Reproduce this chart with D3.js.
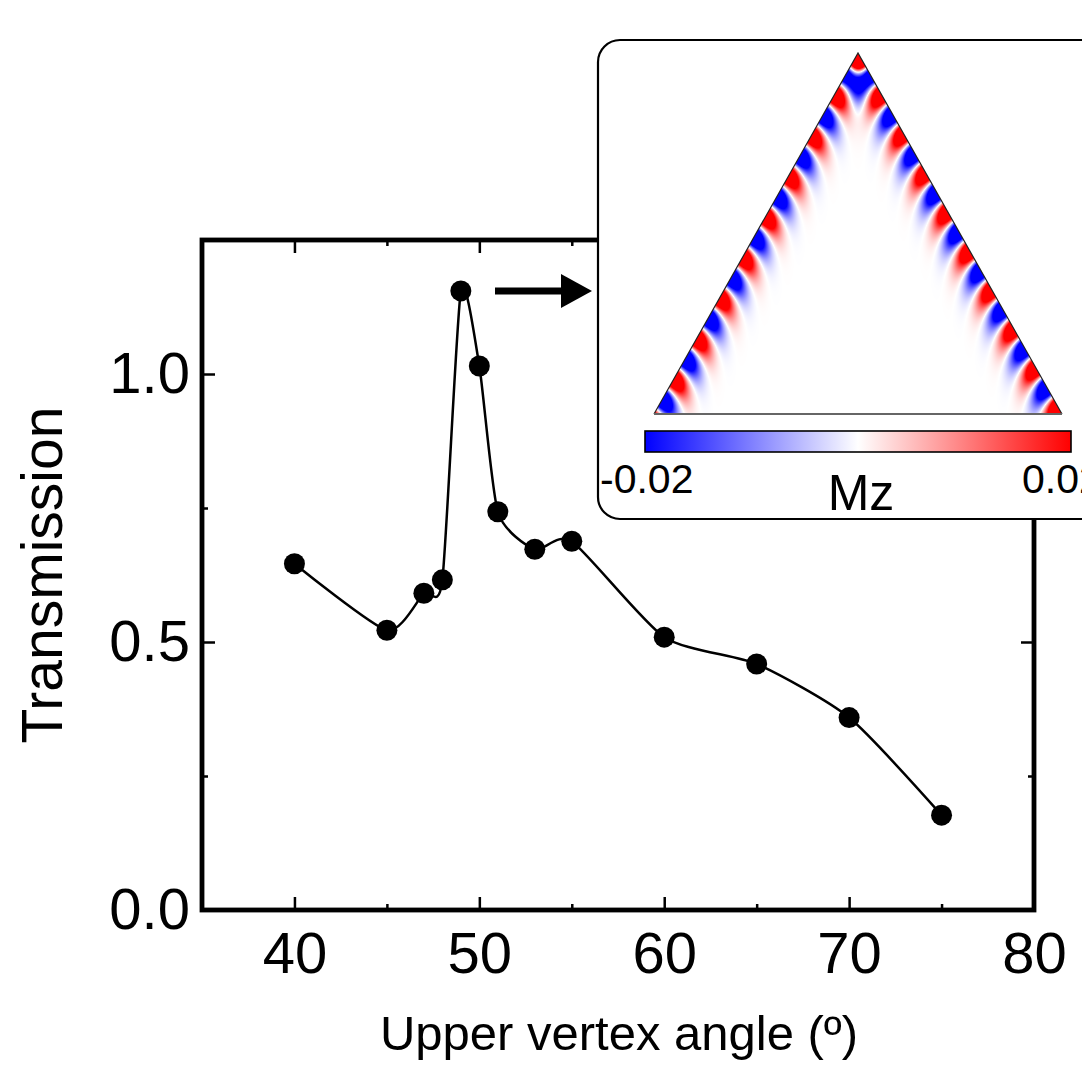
<!DOCTYPE html>
<html>
<head>
<meta charset="utf-8">
<script src="https://cdn.jsdelivr.net/npm/d3@7"></script>
<style>
  html, body { margin: 0; padding: 0; background: #fff; }
  svg { display: block; }
  text { font-family: "Liberation Sans", Arial, sans-serif; fill: #000; }
</style>
</head>
<body>
<script>
// Transmission versus upper vertex angle of the triangular element
const angles = [40, 45, 47, 48, 49, 50, 51, 53, 55, 60, 65, 70, 75];
const transmission = [0.646, 0.522, 0.591, 0.616, 1.155, 1.015, 0.743, 0.673, 0.688, 0.509, 0.459, 0.359, 0.177];

const xMajorTicks = [40, 50, 60, 70, 80];
const xMinorTicks = [45, 55, 65, 75];
const yMajorTicks = [0, 0.5, 1.0];
const yMinorTicks = [0.25, 0.75];

// Mz colour range of the inset map
const mzLimits = [-0.02, 0.02];
const mzTickLabels = ["-0.02", "0.02"];
const mzColors = ["#0000ff", "#ffffff", "#ff0000"];

const W = 1082, H = 1073;
const svg = d3.select("body").append("svg").attr("width", W).attr("height", H);

const x = d3.scaleLinear().domain([35, 80]).range([202, 1034]);
const y = d3.scaleLinear().domain([0, 1.25]).range([910, 240]);

const FONT_TICK = 58;

// ---- axes (ticks point inward on all four sides) ----
function styleAxis(g, width) {
  g.select(".domain").remove();
  g.selectAll(".tick line").attr("stroke", "#000").attr("stroke-width", width);
  g.selectAll(".tick text").style("font-size", FONT_TICK + "px").attr("fill", "#000");
}

const fmtY = d3.format(".1f");

svg.append("g").attr("transform", `translate(0,${y(0)})`)
  .call(d3.axisBottom(x).tickValues(xMajorTicks).tickSize(-13).tickSizeOuter(0).tickPadding(22).tickFormat(d3.format("d")))
  .call(g => styleAxis(g, 2.5));
svg.append("g").attr("transform", `translate(0,${y(0)})`)
  .call(d3.axisBottom(x).tickValues(xMinorTicks).tickSize(-6).tickSizeOuter(0).tickFormat(""))
  .call(g => styleAxis(g, 2.5));
svg.append("g").attr("transform", `translate(0,${y(1.25)})`)
  .call(d3.axisTop(x).tickValues(xMajorTicks).tickSize(-13).tickSizeOuter(0).tickFormat(""))
  .call(g => styleAxis(g, 2.5));
svg.append("g").attr("transform", `translate(0,${y(1.25)})`)
  .call(d3.axisTop(x).tickValues(xMinorTicks).tickSize(-6).tickSizeOuter(0).tickFormat(""))
  .call(g => styleAxis(g, 2.5));

svg.append("g").attr("transform", `translate(${x(35)},0)`)
  .call(d3.axisLeft(y).tickValues(yMajorTicks).tickSize(-13).tickSizeOuter(0).tickPadding(12).tickFormat(fmtY))
  .call(g => styleAxis(g, 2.5));
svg.append("g").attr("transform", `translate(${x(35)},0)`)
  .call(d3.axisLeft(y).tickValues(yMinorTicks).tickSize(-6).tickSizeOuter(0).tickFormat(""))
  .call(g => styleAxis(g, 2.5));
svg.append("g").attr("transform", `translate(${x(80)},0)`)
  .call(d3.axisRight(y).tickValues(yMajorTicks).tickSize(-13).tickSizeOuter(0).tickFormat(""))
  .call(g => styleAxis(g, 2.5));
svg.append("g").attr("transform", `translate(${x(80)},0)`)
  .call(d3.axisRight(y).tickValues(yMinorTicks).tickSize(-6).tickSizeOuter(0).tickFormat(""))
  .call(g => styleAxis(g, 2.5));

// plot frame
svg.append("rect")
  .attr("x", x(35)).attr("y", y(1.25))
  .attr("width", x(80) - x(35)).attr("height", y(0) - y(1.25))
  .attr("fill", "none").attr("stroke", "#000").attr("stroke-width", 4.8);

// axis titles
svg.append("text")
  .attr("transform", `translate(62,575) rotate(-90)`)
  .attr("text-anchor", "middle")
  .style("font-size", "57px")
  .text("Transmission");

svg.append("text")
  .attr("x", 619).attr("y", 1050)
  .attr("text-anchor", "middle")
  .style("font-size", "49px")
  .text("Upper vertex angle (º)");

// ---- data curve and markers ----
const pts = angles.map((a, i) => [a, transmission[i]]);
svg.append("path")
  .datum(pts)
  .attr("fill", "none").attr("stroke", "#000").attr("stroke-width", 2.5)
  .attr("d", d3.line().x(d => x(d[0])).y(d => y(d[1])).curve(d3.curveCardinal.tension(0.35)));

svg.append("g").selectAll("circle").data(pts).join("circle")
  .attr("cx", d => x(d[0])).attr("cy", d => y(d[1])).attr("r", 10.5).attr("fill", "#000");

// ---- inset: Mz map of the triangle at the transmission peak ----
const inset = svg.append("g");
inset.append("rect")
  .attr("x", 598).attr("y", 40).attr("width", 540).attr("height", 479).attr("rx", 22)
  .attr("fill", "#fff").attr("stroke", "#000").attr("stroke-width", 2.2);

const color = d3.scaleLinear().domain([mzLimits[0], 0, mzLimits[1]]).range(mzColors).clamp(true);

const apex = [858, 53], bl = [654, 414], br = [1062, 414];

// edge spin-wave mode: half wavelength along each slanted edge
const edges = [
  { a: apex, b: bl, half: 23.3, s0: 36.4 },
  { a: apex, b: br, half: 22.4, s0: 36.8 }
];

const x0 = bl[0], y0 = apex[1];
const cw = br[0] - bl[0], ch = bl[1] - apex[1];
const canvas = document.createElement("canvas");
canvas.width = cw; canvas.height = ch;
const ctx = canvas.getContext("2d");
const img = ctx.createImageData(cw, ch);

function sideOf(p, a, b) { return (b[0] - a[0]) * (p[1] - a[1]) - (b[1] - a[1]) * (p[0] - a[0]); }

for (let j = 0; j < ch; j++) {
  for (let i = 0; i < cw; i++) {
    const p = [x0 + i + 0.5, y0 + j + 0.5];
    const s1 = sideOf(p, apex, bl), s2 = sideOf(p, bl, br), s3 = sideOf(p, br, apex);
    const inside = (s1 <= 0 && s2 <= 0 && s3 <= 0) || (s1 >= 0 && s2 >= 0 && s3 >= 0);
    const k = (j * cw + i) * 4;
    if (!inside) { img.data[k + 3] = 0; continue; }
    let v = 0;
    for (const e of edges) {
      const dx = e.b[0] - e.a[0], dy = e.b[1] - e.a[1];
      const L = Math.hypot(dx, dy);
      const ux = dx / L, uy = dy / L;
      const rx = p[0] - e.a[0], ry = p[1] - e.a[1];
      const s = rx * ux + ry * uy;
      const d = Math.abs(rx * uy - ry * ux);
      // crescent-shaped wavefronts bending away from the apex as they leave the edge
      const phase = Math.PI * (s - 0.2 * d - 0.012 * d * d - e.s0) / e.half;
      const env = Math.exp(-Math.pow(d / 16, 1.6));
      v += 0.042 * Math.sin(phase) * env;
    }
    const c = d3.rgb(color(v));
    img.data[k] = c.r; img.data[k + 1] = c.g; img.data[k + 2] = c.b; img.data[k + 3] = 255;
  }
}
ctx.putImageData(img, 0, 0);

inset.append("image")
  .attr("x", x0).attr("y", y0).attr("width", cw).attr("height", ch)
  .attr("href", canvas.toDataURL());

inset.append("path")
  .attr("d", `M${bl[0]},${bl[1]}L${apex[0]},${apex[1]}L${br[0]},${br[1]}`)
  .attr("fill", "none").attr("stroke", "#222").attr("stroke-width", 1.2);
inset.append("line")
  .attr("x1", bl[0]).attr("y1", bl[1]).attr("x2", br[0]).attr("y2", br[1])
  .attr("stroke", "#666").attr("stroke-width", 1.8);

// colour bar
const defs = svg.append("defs");
const grad = defs.append("linearGradient").attr("id", "mzGrad");
d3.range(0, 1.0001, 0.1).forEach(t => {
  grad.append("stop").attr("offset", t).attr("stop-color", color(mzLimits[0] + t * (mzLimits[1] - mzLimits[0])));
});
inset.append("rect")
  .attr("x", 645).attr("y", 431).attr("width", 426).attr("height", 21)
  .attr("fill", "url(#mzGrad)").attr("stroke", "#000").attr("stroke-width", 1.6);

inset.append("text").attr("x", 600).attr("y", 493).style("font-size", "41px").text(mzTickLabels[0]);
inset.append("text").attr("x", 1022).attr("y", 493).style("font-size", "41px").text(mzTickLabels[1]);
inset.append("text").attr("x", 861).attr("y", 510).attr("text-anchor", "middle").style("font-size", "50px").text("Mz");

// arrow pointing from the peak to the inset
svg.append("line")
  .attr("x1", 495).attr("y1", 291).attr("x2", 566).attr("y2", 291)
  .attr("stroke", "#000").attr("stroke-width", 7);
svg.append("path")
  .attr("d", "M561,274L592,291L561,308Z").attr("fill", "#000");
</script>
</body>
</html>
